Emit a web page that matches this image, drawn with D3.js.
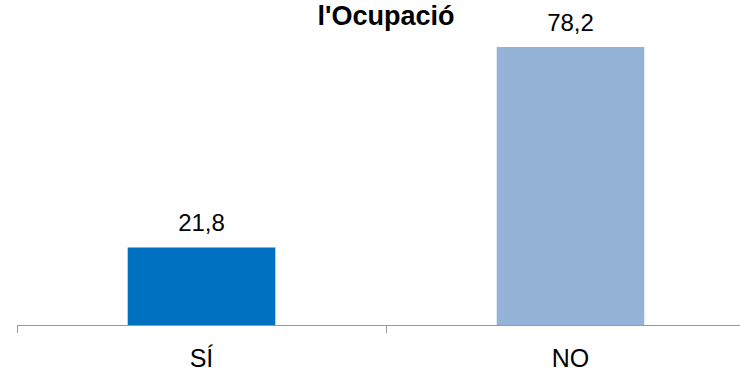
<!DOCTYPE html>
<html>
<head>
<meta charset="utf-8">
<script src="https://cdn.jsdelivr.net/npm/d3@7"></script>
<style>
  body { margin: 0; background: #fff; }
  svg { display: block; font-family: "Liberation Sans", Arial, sans-serif; }
</style>
</head>
<body>
<div id="chart"></div>
<script>
const categories = ["SÍ", "NO"];
const values = [21.8, 78.2];
const barColors = ["#0070C0", "#95B3D7"];
const title = "l'Ocupació";

const width = 740, height = 371;

const svg = d3.select("#chart")
  .append("svg")
    .attr("width", width)
    .attr("height", height);

const x = d3.scaleBand()
  .domain(categories)
  .range([17, 755])
  .paddingInner(0.6)
  .paddingOuter(0.3);

const y = d3.scaleLinear()
  .domain([0, 90])
  .range([325, 5]);

// bars
svg.selectAll("rect.bar")
  .data(categories)
  .enter()
  .append("rect")
    .attr("class", "bar")
    .attr("x", d => x(d))
    .attr("width", x.bandwidth())
    .attr("y", (d, i) => y(values[i]))
    .attr("height", (d, i) => y(0) - y(values[i]))
    .attr("fill", (d, i) => barColors[i]);

// value labels
svg.selectAll("text.val")
  .data(categories)
  .enter()
  .append("text")
    .attr("class", "val")
    .attr("x", d => x(d) + x.bandwidth() / 2)
    .attr("y", (d, i) => y(values[i]) - 16)
    .attr("text-anchor", "middle")
    .style("font-size", "24px")
    .attr("fill", "#000")
    .text((d, i) => d3.format(".1f")(values[i]).replace(".", ","));

// x axis: category boundaries as ticks
const step = x.step();
const bounds = [17, 17 + (755 - 17) / 2, 755];
const axis = svg.append("g");
axis.append("line")
  .attr("x1", 17).attr("x2", 755)
  .attr("y1", y(0) + 0.5).attr("y2", y(0) + 0.5)
  .attr("stroke", "#999").attr("stroke-width", 1);
axis.selectAll("line.tick")
  .data(bounds)
  .enter()
  .append("line")
    .attr("class", "tick")
    .attr("x1", d => d + 0.5).attr("x2", d => d + 0.5)
    .attr("y1", y(0)).attr("y2", y(0) + 8)
    .attr("stroke", "#999").attr("stroke-width", 1);

axis.selectAll("text.cat")
  .data(categories)
  .enter()
  .append("text")
    .attr("class", "cat")
    .attr("x", d => x(d) + x.bandwidth() / 2)
    .attr("y", 367)
    .attr("text-anchor", "middle")
    .style("font-size", "25px")
    .attr("fill", "#000")
    .text(d => d);

// title (top is cut off in the original)
svg.append("text")
  .attr("x", 386)
  .attr("y", 25)
  .attr("text-anchor", "middle")
  .style("font-size", "27px")
  .style("font-weight", "bold")
  .text(title);
</script>
</body>
</html>
